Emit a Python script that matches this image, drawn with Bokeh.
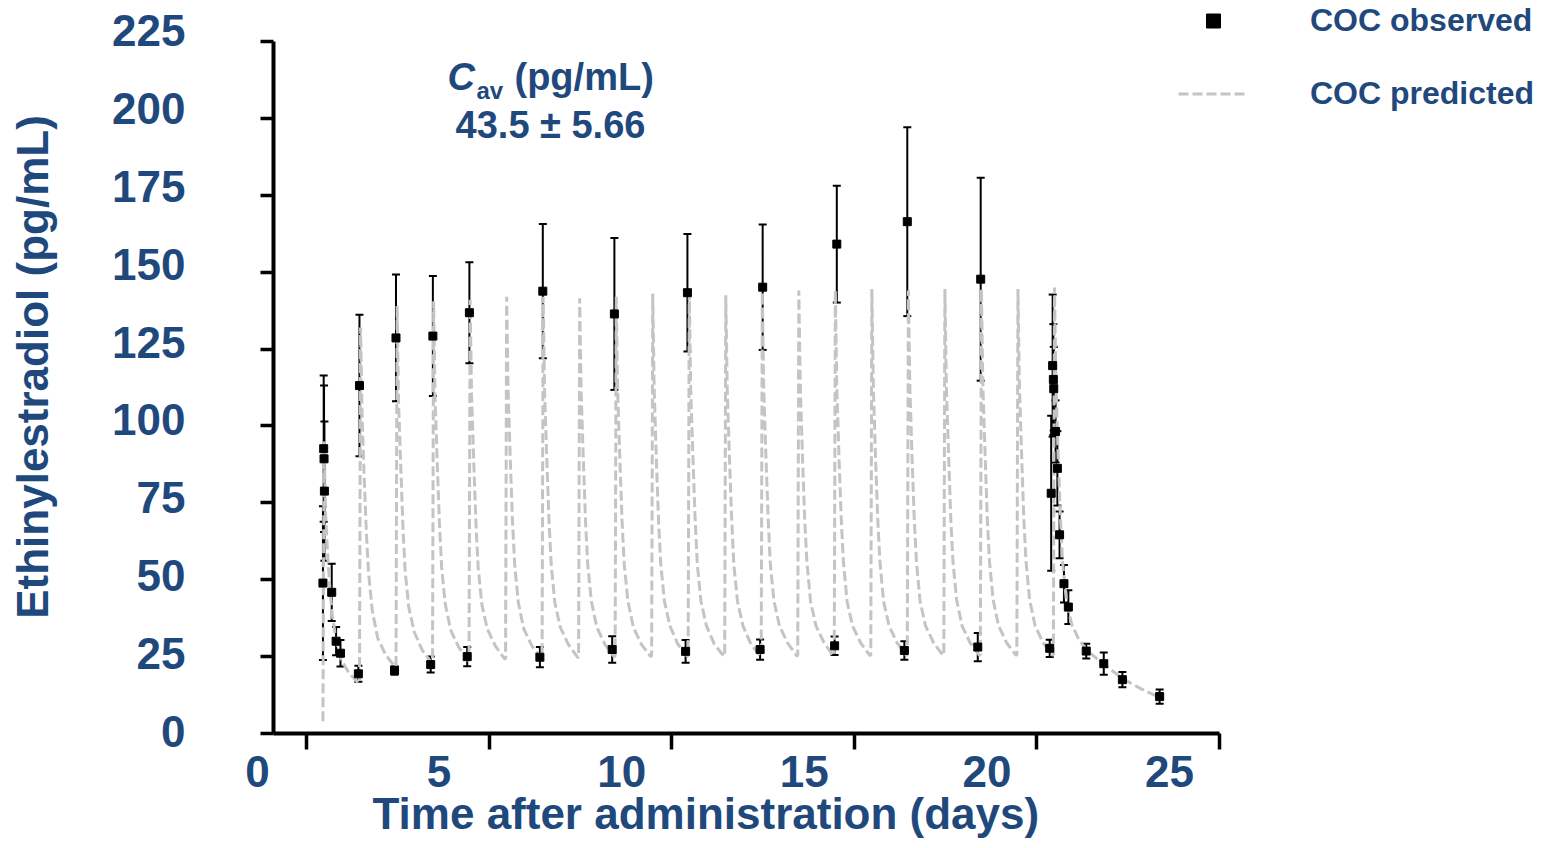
from bokeh.plotting import figure
from bokeh.models import (Range1d, FixedTicker, ColumnDataSource, Whisker, TeeHead,
                          Label, Legend, LegendItem, LinearAxis, Title)
from bokeh.embed import file_html
from bokeh.resources import INLINE

NAVY = "#1f497d"
FONT = "Liberation Sans"

# ---------------- tick values / labels ----------------
x_ticks = [0, 5, 10, 15, 20, 25]
x_tick_labels = ["0", "5", "10", "15", "20", "25"]
y_ticks = [0, 25, 50, 75, 100, 125, 150, 175, 200, 225]
y_tick_labels = ["0", "25", "50", "75", "100", "125", "150", "175", "200", "225"]

# ---------------- observed data (mean, SD) ----------------
obs_day = [0.45, 0.47, 0.48, 0.49, 0.69, 0.81, 0.93, 1.42,
           1.45, 2.41, 2.45, 3.40, 3.46, 4.40, 4.46,
           6.39, 6.47, 8.37, 8.43, 10.38, 10.43, 12.42, 12.49,
           14.46, 14.52, 16.37, 16.45, 18.38, 18.46,
           20.35, 20.39, 20.43, 20.45, 20.46, 20.51, 20.56, 20.62, 20.74, 20.86,
           21.35, 21.83, 22.34, 23.36]
obs_mean = [48.9, 92.6, 89.3, 78.8, 45.9, 30.0, 26.1, 19.4,
            113.1, 20.5, 128.6, 22.4, 129.2, 25.0, 136.8,
            24.8, 143.8, 27.3, 136.4, 26.7, 143.3, 27.3, 145.1,
            28.5, 159.1, 27.0, 166.4, 28.1, 147.7,
            27.7, 78.1, 119.6, 115.1, 112.1, 98.2, 86.2, 64.6, 48.7, 41.1,
            26.8, 22.7, 17.5, 12.0]
obs_sd = [25.0, 23.8, 23.8, 22.6, 9.3, 4.6, 4.3, 2.6,
          23.0, 1.4, 20.6, 2.6, 19.5, 3.1, 16.4,
          3.3, 21.8, 4.3, 24.7, 3.7, 19.1, 3.3, 20.4,
          3.0, 19.0, 3.0, 30.7, 4.6, 33.0,
          2.8, 25.2, 23.1, 18.0, 13.6, 10.1, 12.1, 7.6, 6.1, 5.5,
          2.4, 3.6, 2.5, 2.3]

# ---------------- predicted profile (read per dosing day) ----------------
dose_day = [0.45, 1.45, 2.45, 3.45, 4.45, 5.45, 6.45, 7.45, 8.45, 9.45, 10.45,
            11.45, 12.45, 13.45, 14.45, 15.45, 16.45, 17.45, 18.45, 19.45, 20.45]
pred_offset = [0.00, 0.03, 0.07, 0.13, 0.19, 0.25, 0.35, 0.50, 0.72, 0.97]
pred_d01 = [4.0, 95.0, 72.0, 58.0, 47.0, 39.0, 31.0, 24.0, 19.5, 16.5]
pred_d02 = [16.3, 132.0, 104.0, 83.0, 65.0, 52.0, 40.0, 31.0, 25.5, 21.8]
pred_d03 = [21.8, 139.0, 108.0, 87.0, 67.0, 53.0, 41.0, 33.0, 27.0, 23.0]
pred_d04 = [23.0, 140.5, 109.0, 88.0, 68.0, 54.0, 42.0, 33.5, 28.0, 23.8]
pred_d05 = [23.8, 141.0, 110.0, 88.0, 68.0, 54.0, 42.0, 34.0, 28.5, 24.3]
pred_d06 = [24.3, 142.0, 111.0, 89.0, 69.0, 55.0, 42.5, 34.0, 28.5, 24.5]
pred_d07 = [24.5, 142.0, 111.0, 89.0, 69.0, 55.0, 42.5, 34.5, 29.0, 24.8]
pred_d08 = [24.8, 141.5, 111.0, 89.0, 69.0, 55.0, 43.0, 34.5, 29.0, 25.0]
pred_d09 = [25.0, 142.0, 111.0, 89.0, 69.0, 55.0, 43.0, 34.5, 29.0, 25.1]
pred_d10 = [25.1, 143.0, 112.0, 89.0, 69.0, 55.0, 43.0, 35.0, 29.0, 25.2]
pred_d11 = [25.2, 143.0, 112.0, 90.0, 70.0, 55.0, 43.0, 35.0, 29.0, 25.2]
pred_d12 = [25.2, 142.5, 112.0, 90.0, 70.0, 55.0, 43.0, 35.0, 29.0, 25.3]
pred_d13 = [25.3, 143.5, 112.0, 90.0, 70.0, 55.0, 43.0, 35.0, 29.5, 25.3]
pred_d14 = [25.3, 144.0, 113.0, 90.0, 70.0, 56.0, 43.0, 35.0, 29.5, 25.4]
pred_d15 = [25.4, 144.0, 113.0, 90.0, 70.0, 56.0, 43.0, 35.0, 29.5, 25.4]
pred_d16 = [25.4, 144.5, 113.0, 90.0, 70.0, 56.0, 43.0, 35.0, 29.5, 25.5]
pred_d17 = [25.5, 144.0, 113.0, 90.0, 70.0, 56.0, 43.0, 35.0, 29.5, 25.5]
pred_d18 = [25.5, 144.5, 113.0, 91.0, 70.0, 56.0, 43.5, 35.0, 29.5, 25.5]
pred_d19 = [25.5, 144.5, 113.0, 91.0, 70.0, 56.0, 43.5, 35.0, 29.5, 25.5]
pred_d20 = [25.5, 144.5, 113.0, 91.0, 70.0, 56.0, 43.5, 35.0, 29.5, 25.5]
pred_d21 = [25.5, 145.0, 114.0, 91.0, 71.0, 56.0, 44.0, 35.5, 30.0, 26.5]
pred_tail_offset = [1.38, 1.88, 2.40, 2.90, 3.00]
pred_tail = [22.5, 18.0, 14.5, 11.8, 11.2]

pred_days = [pred_d01, pred_d02, pred_d03, pred_d04, pred_d05, pred_d06, pred_d07,
             pred_d08, pred_d09, pred_d10, pred_d11, pred_d12, pred_d13, pred_d14,
             pred_d15, pred_d16, pred_d17, pred_d18, pred_d19, pred_d20, pred_d21]

pred_t, pred_c = [], []
for d0, vals in zip(dose_day, pred_days):
    for off, v in zip(pred_offset, vals):
        pred_t.append(d0 + off)
        pred_c.append(v)
for off, v in zip(pred_tail_offset, pred_tail):
    pred_t.append(dose_day[-1] + off)
    pred_c.append(v)

# ---------------- figure ----------------
# the plot frame spans to the right/top edges so the legend is not clipped;
# the visible axes are limited with `bounds`
p = figure(width=1547, height=840,
           x_range=Range1d(-0.904, 33.98), y_range=Range1d(0, 238.3),
           output_backend="svg", toolbar_location=None,
           x_axis_location=None, y_axis_location=None,
           min_border_left=273, min_border_right=0,
           min_border_top=0, min_border_bottom=107)
# ranges used only to place the tick labels where the original figure has them
XLAB_SHIFT = 1.37
p.extra_y_ranges = {"ylab": Range1d(-0.642, 234.6)}
p.extra_x_ranges = {"xlab": Range1d(-0.904 + XLAB_SHIFT, 33.98 + XLAB_SHIFT)}
p.xgrid.visible = False
p.ygrid.visible = False
p.outline_line_color = None
p.background_fill_color = "white"
p.border_fill_color = "white"


def tick_axis(bounds, ticks, tick_out):
    ax = LinearAxis(ticker=FixedTicker(ticks=ticks), bounds=bounds)
    ax.major_label_overrides = {t: "" for t in ticks}
    ax.major_label_text_font_size = "0px"
    ax.major_label_standoff = 0
    ax.major_tick_out = tick_out
    ax.major_tick_in = 0
    ax.minor_tick_out = 0
    ax.minor_tick_in = 0
    ax.axis_line_width = 4
    ax.major_tick_line_width = 3.5
    ax.axis_line_color = "black"
    ax.major_tick_line_color = "black"
    return ax


def label_axis(range_name, ticks, labels, standoff, horizontal):
    kw = dict(x_range_name=range_name) if horizontal else dict(y_range_name=range_name)
    ax = LinearAxis(ticker=FixedTicker(ticks=ticks), **kw)
    ax.major_label_overrides = dict(zip(ticks, labels))
    ax.axis_line_color = None
    ax.major_tick_line_color = None
    ax.minor_tick_line_color = None
    ax.major_tick_out = 0
    ax.major_tick_in = 0
    ax.minor_tick_out = 0
    ax.minor_tick_in = 0
    ax.major_label_standoff = standoff
    ax.major_label_text_font = FONT
    ax.major_label_text_font_size = "44px"
    ax.major_label_text_font_style = "bold"
    ax.major_label_text_color = NAVY
    return ax


# x axis: line + ticks, then the labels.  The "0" lies left of the frame in the
# original, so it is drawn at the first tick, padded with figure spaces.
xl_ticks = [XLAB_SHIFT] + x_ticks[1:]
xl_labels = [x_tick_labels[0] + "\u2007" * 4] + x_tick_labels[1:]
p.add_layout(tick_axis((-0.904, 25.0), x_ticks, 16), "below")
p.add_layout(label_axis("xlab", xl_ticks, xl_labels, -3, True), "below")

# y axis: line + ticks, then labels + title
p.add_layout(tick_axis((0, 225), y_ticks, 13), "left")
yl = label_axis("ylab", y_ticks, y_tick_labels, 75, False)
yl.axis_label = "Ethinylestradiol (pg/mL)"
yl.axis_label_standoff = 52
yl.axis_label_text_font = FONT
yl.axis_label_text_font_size = "44px"
yl.axis_label_text_font_style = "bold"
yl.axis_label_text_color = NAVY
p.add_layout(yl, "left")

xt = Title(text="Time after administration (days)", align="left", offset=99,
           vertical_align="top", standoff=-20,
           text_font=FONT, text_font_size="44px", text_font_style="bold",
           text_color=NAVY)
p.add_layout(xt, "below")

# predicted curve
ln = p.line(pred_t, pred_c, line_color="#c4c4c4", line_width=3, line_dash="10 4")

# observed with SD
obs_src = ColumnDataSource(dict(
    x=obs_day, y=obs_mean,
    upper=[m + s for m, s in zip(obs_mean, obs_sd)],
    lower=[m - s for m, s in zip(obs_mean, obs_sd)]))
wh = Whisker(source=obs_src, base="x", upper="upper", lower="lower", dimension="height",
             line_color="black", line_width=2,
             upper_head=TeeHead(size=8, line_width=2, line_color="black"),
             lower_head=TeeHead(size=8, line_width=2, line_color="black"))
p.add_layout(wh)
sc = p.scatter("x", "y", source=obs_src, marker="square", size=8,
               fill_color="black", line_color="black")


def lab(text, x, y, size, style="bold", align="left"):
    return Label(text=text, x=x, y=y, x_units="screen", y_units="screen",
                 text_align=align, text_baseline="middle",
                 text_font=FONT, text_font_size=size, text_font_style=style,
                 text_color=NAVY)


# Cav annotation
p.add_layout(lab("C", 174, 657, "38px", style="bold italic"))
p.add_layout(lab("av", 203, 643, "24px"))
p.add_layout(lab("(pg/mL)", 241, 657, "38px"))
p.add_layout(lab("43.5 \u00b1 5.66", 277, 609, "38px", align="center"))

legend = Legend(items=[LegendItem(label="COC observed", renderers=[sc]),
                       LegendItem(label="COC predicted", renderers=[ln])],
                location=(905, 621.5), orientation="vertical",
                padding=0, margin=0, spacing=36,
                glyph_width=70, glyph_height=35, label_height=35, label_standoff=62,
                border_line_color=None, background_fill_alpha=0,
                label_text_font=FONT, label_text_font_size="32px",
                label_text_font_style="bold", label_text_color=NAVY)
p.add_layout(legend)

open("out.html", "w").write(file_html(p, INLINE))
